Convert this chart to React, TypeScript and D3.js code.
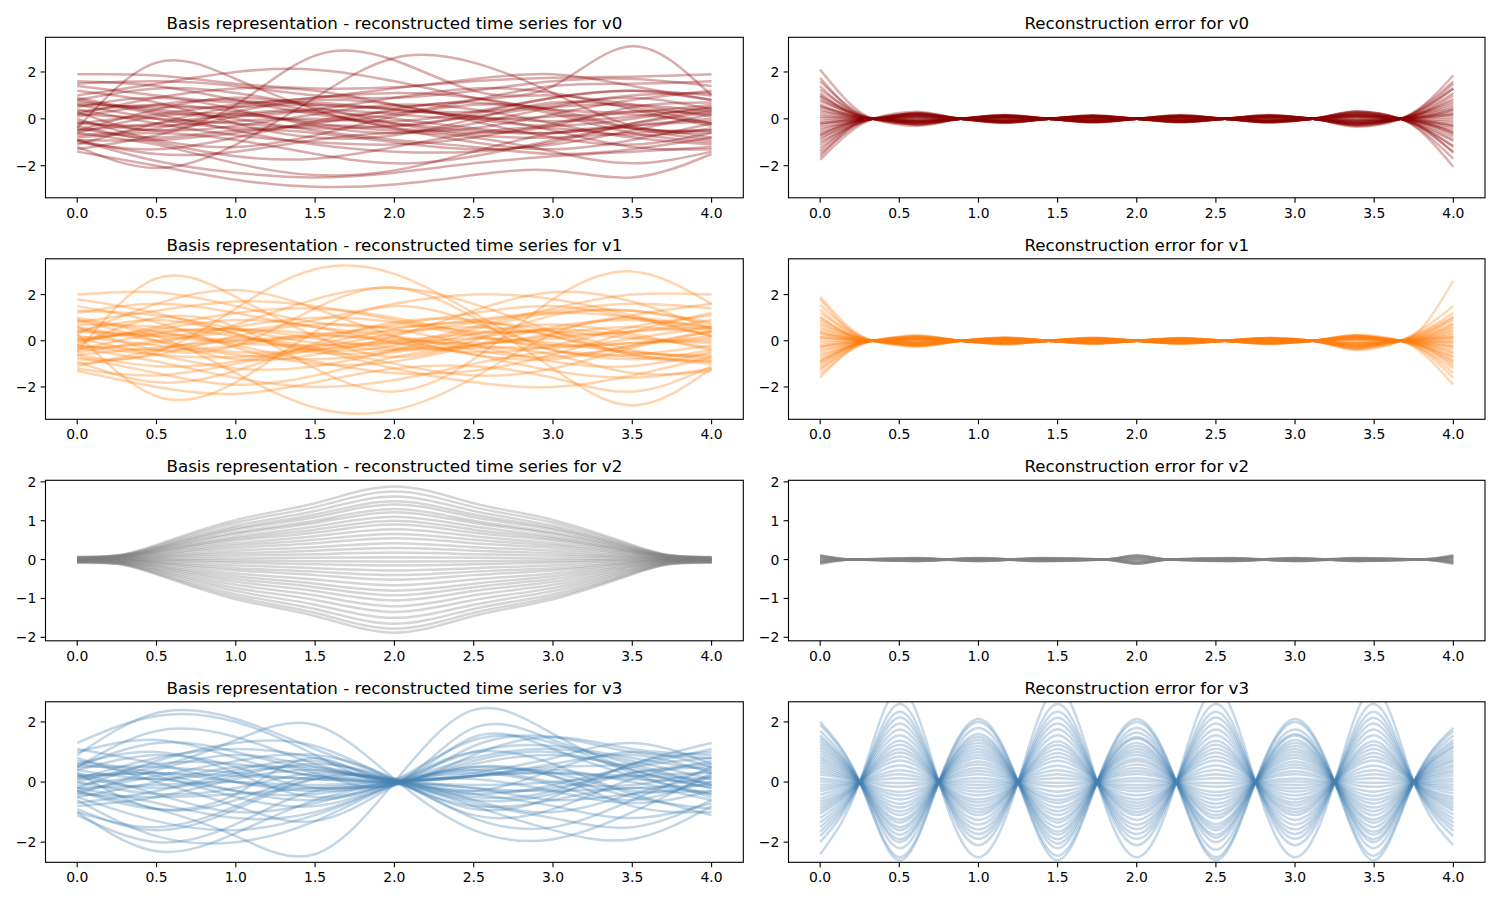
import React from 'react';
import * as d3 from 'd3';

const W = 1500;
const H = 900;

// sample positions for the reconstructed series
const basisX = [0, 0.5, 1, 1.5, 2, 2.5, 3, 3.5, 4];
const bellX = [0, 0.25, 0.5, 1, 1.5, 2, 2.5, 3, 3.5, 3.75, 4];

// error curves: zero crossings sit between the listed peaks
const errX = [0, 0.333, 0.611, 0.889, 1.167, 1.444, 1.722, 2.0, 2.278, 2.556, 2.833, 3.111, 3.389, 3.667, 4.0];
const waveX = [0, 0.25, 0.5, 0.75, 1, 1.25, 1.5, 1.75, 2, 2.25, 2.5, 2.75, 3, 3.25, 3.5, 3.75, 4];
const flatX = [0, 0.2, 0.6, 1.0, 1.4, 1.8, 2.0, 2.2, 2.6, 3.0, 3.4, 3.8, 4.0];

const v0Series = [
  [1.9, 1.85, 1.5, 1.3, 1.35, 1.6, 1.75, 1.8, 1.9],
  [-0.4, 2.4, 1.7, 0.4, -0.3, 0.2, 0.9, 1.2, 0.8],
  [-1.2, -2.1, -1.1, 0.9, 2.6, 2.4, 1.1, -0.3, -0.6],
  [0.3, -0.5, 0.6, 2.7, 2.5, 1.2, 1.4, 3.1, 1.0],
  [-1.4, -2.0, -2.6, -2.9, -2.8, -2.4, -2.2, -2.5, -1.5],
  [-0.9, -1.8, -2.3, -2.5, -2.3, -1.9, -1.6, -1.4, -1.2],
  [1.5, 1.6, 1.4, 1.0, 0.9, 1.2, 1.6, 1.7, 1.4],
  [0.8, 1.3, 1.1, 0.6, 0.5, 0.8, 1.0, 0.6, 0.1],
  [-0.5, 0.4, 0.9, 0.5, -0.2, -0.6, -0.3, 0.5, 0.7],
  [0.0, -0.9, -1.2, -0.7, 0.1, 0.6, 0.4, -0.4, -0.9],
  [-0.7, -0.4, 0.3, 0.8, 0.6, -0.1, -0.8, -1.1, -0.6],
  [0.5, 0.9, 0.4, -0.3, -0.6, -0.2, 0.5, 0.9, 0.4],
  [-1.0, -1.3, -0.8, -0.1, 0.3, 0.1, -0.5, -1.2, -1.3],
  [1.2, 0.7, -0.2, -0.8, -0.7, 0.0, 0.7, 0.5, -0.2],
  [-0.2, 0.2, 0.6, 0.9, 1.1, 0.9, 0.3, -0.4, -0.5],
  [0.4, -0.2, -0.7, -1.0, -1.1, -0.8, -0.2, 0.3, 0.2],
  [-0.8, -0.6, -0.9, -1.5, -1.9, -1.6, -0.9, -0.3, 0.0],
  [0.9, 0.3, 0.1, 0.4, 0.9, 1.3, 1.1, 0.4, -0.3],
  [-0.3, -1.0, -1.6, -1.7, -1.2, -0.6, -0.4, -0.8, -1.1],
  [1.0, 1.5, 2.0, 2.1, 1.6, 0.9, 0.4, 0.3, 0.6],
  [-0.6, 0.1, 0.2, -0.2, -0.5, -0.4, 0.2, 0.8, 1.2],
  [0.1, 0.6, 0.8, 0.3, -0.4, -1.0, -1.3, -0.9, -0.2],
  [-1.3, -0.7, 0.1, 0.3, 0.0, -0.4, -0.6, -0.2, 0.3],
  [0.6, 0.0, -0.4, -0.2, 0.4, 0.7, 0.2, -0.6, -1.0],
  [-0.1, -0.5, -0.3, 0.2, 0.6, 0.4, -0.2, -0.7, -0.4],
  [1.4, 1.0, 0.7, 0.9, 1.3, 1.7, 1.9, 1.4, 0.8],
  [-0.9, -1.5, -1.4, -0.9, -0.6, -0.8, -1.4, -1.9, -1.4],
  [0.2, 0.9, 1.3, 1.2, 0.6, 0.0, -0.3, 0.0, 0.5],
  [-0.4, -0.8, -0.5, -0.6, -1.0, -1.3, -1.1, -0.5, 0.2],
  [0.7, 0.4, 0.0, -0.5, -0.9, -1.2, -1.5, -1.3, -0.8],
  [-1.1, -0.2, 0.5, 0.7, 0.4, 0.3, 0.6, 1.0, 1.1],
  [0.3, 0.6, 0.3, -0.1, 0.2, 0.8, 1.4, 1.5, 1.6],
  [-0.2, -0.3, -0.1, 0.0, -0.2, -0.5, -0.6, -0.3, -0.1],
  [0.8, 0.2, -0.5, -1.1, -1.4, -1.4, -1.0, -0.2, 0.4],
  [-0.6, -1.1, -1.9, -2.4, -2.2, -1.4, -0.6, -0.4, -0.8],
  [1.6, 1.4, 0.8, 0.2, -0.1, 0.3, 0.9, 1.2, 1.0],
  [-0.5, -0.2, 0.2, 0.4, 0.2, 0.0, 0.1, 0.2, -0.2],
  [0.2, 0.0, -0.2, -0.4, -0.3, 0.1, 0.5, 0.6, 0.3],
  [-0.9, -0.9, -0.6, -0.3, -0.4, -0.7, -0.8, -0.6, -0.5],
  [0.6, 0.5, 0.5, 0.6, 0.4, 0.1, -0.1, 0.1, 0.5],
];

const v1Series = [
  [2.0, 2.1, 1.5, 0.8, 0.6, 0.9, 1.3, 1.6, 1.4],
  [-0.5, 2.7, 1.9, 0.2, -0.7, 0.0, 1.1, 1.3, 0.7],
  [0.3, -2.4, -1.8, 0.4, 1.5, 0.8, -0.2, 0.1, 0.6],
  [-0.8, -0.5, 1.4, 3.1, 2.9, 1.2, -0.4, -0.6, -0.2],
  [0.9, 0.2, -1.4, -2.9, -3.0, -1.6, 0.3, 1.0, 0.5],
  [-0.2, 1.0, 0.6, -1.2, -2.2, -0.8, 1.8, 3.0, 1.6],
  [0.6, -0.4, -0.2, 1.4, 2.3, 1.0, -1.2, -2.8, -1.2],
  [1.2, 1.6, 1.2, 0.6, 0.4, 0.8, 1.2, 1.0, 0.4],
  [-1.2, -1.5, -1.0, -0.4, -0.1, -0.6, -1.3, -1.6, -1.2],
  [0.4, 0.9, 0.3, -0.5, -0.4, 0.3, 0.7, 0.3, -0.4],
  [-0.6, -1.1, -0.9, -0.2, 0.5, 0.8, 0.4, -0.4, -0.8],
  [0.0, 0.5, 0.9, 0.6, -0.1, -0.5, -0.2, 0.6, 1.1],
  [1.5, 0.8, -0.3, -1.0, -0.9, -0.2, 0.6, 0.9, 0.6],
  [-0.3, -0.9, -1.6, -2.0, -1.7, -1.0, -0.5, -0.7, -1.0],
  [0.8, 1.3, 1.7, 1.5, 0.9, 0.4, 0.5, 1.1, 1.6],
  [-1.0, -0.6, 0.2, 0.7, 0.5, -0.2, -0.9, -1.1, -0.5],
  [0.2, -0.2, -0.6, -0.8, -0.5, 0.1, 0.5, 0.2, -0.3],
  [-0.4, 0.3, 0.5, 0.1, -0.3, -0.2, 0.3, 0.6, 0.3],
  [1.0, 0.4, 0.0, 0.2, 0.7, 1.2, 1.5, 1.0, 0.2],
  [-0.7, -1.4, -1.9, -1.5, -0.7, -0.3, -0.6, -1.4, -1.3],
  [0.5, 0.0, -0.5, -0.3, 0.3, 0.6, 0.2, -0.5, -0.6],
  [-0.1, 0.6, 1.2, 1.4, 1.0, 0.3, -0.4, -0.8, -0.4],
  [1.3, 1.1, 0.5, -0.1, -0.4, -0.2, 0.2, 0.4, 0.9],
  [-1.1, -0.4, 0.1, -0.3, -1.0, -1.5, -1.2, -0.3, 0.4],
  [0.1, -0.6, -1.2, -1.1, -0.4, 0.5, 1.2, 1.3, 0.8],
  [0.7, 0.6, 0.2, -0.4, -1.2, -1.8, -2.0, -1.5, -0.7],
  [-0.5, 0.0, 0.4, 0.9, 1.6, 2.0, 1.8, 1.1, 0.2],
  [0.3, 1.6, 2.2, 1.4, 0.2, -0.6, -0.8, -0.2, 0.4],
  [-0.9, -1.8, -1.3, -0.1, 0.8, 0.9, 0.2, -0.6, -0.9],
  [1.8, 1.2, 0.3, -0.4, -0.2, 0.6, 1.4, 2.0, 2.0],
  [-0.2, -0.4, -0.2, 0.3, 0.2, -0.4, -0.7, -0.2, 0.2],
  [0.6, 0.2, 0.6, 1.0, 0.8, 0.2, -0.2, -0.1, 0.0],
  [-1.3, -2.0, -2.3, -1.8, -1.2, -1.1, -1.6, -2.2, -1.1],
  [0.0, 0.3, -0.2, -0.9, -1.4, -1.3, -0.6, 0.4, 1.2],
  [0.9, 0.0, -0.8, -0.6, 0.2, 1.3, 2.1, 1.7, 0.5],
  [-0.3, -0.1, 0.7, 1.8, 2.3, 1.6, 0.4, -0.6, -0.9],
  [0.4, 0.2, -0.1, -0.2, 0.0, 0.3, 0.4, 0.1, -0.1],
  [-0.6, -0.3, 0.0, 0.2, 0.1, -0.2, -0.3, -0.1, 0.1],
  [0.1, 0.4, 0.5, 0.3, 0.0, -0.1, 0.1, 0.4, 0.6],
  [-0.2, -0.6, -0.7, -0.4, -0.1, 0.1, -0.1, -0.5, -0.7],
];

const v2Series = [
  [0.06, 0.11, 0.38, 1.02, 1.45, 1.88, 1.45, 1.02, 0.38, 0.11, 0.05],
  [0.04, 0.10, 0.35, 0.95, 1.35, 1.75, 1.35, 0.95, 0.35, 0.10, 0.06],
  [0.07, 0.10, 0.32, 0.87, 1.25, 1.62, 1.25, 0.87, 0.32, 0.10, 0.03],
  [0.02, 0.09, 0.30, 0.81, 1.16, 1.50, 1.16, 0.81, 0.30, 0.09, 0.07],
  [0.05, 0.09, 0.28, 0.77, 1.09, 1.42, 1.09, 0.77, 0.28, 0.09, 0.02],
  [0.03, 0.08, 0.26, 0.70, 1.00, 1.30, 1.00, 0.70, 0.26, 0.08, 0.05],
  [0.06, 0.07, 0.24, 0.66, 0.94, 1.22, 0.94, 0.66, 0.24, 0.07, 0.01],
  [0.01, 0.07, 0.22, 0.59, 0.85, 1.10, 0.85, 0.59, 0.22, 0.07, 0.04],
  [0.04, 0.06, 0.20, 0.54, 0.77, 1.00, 0.77, 0.54, 0.20, 0.06, 0.06],
  [0.00, 0.05, 0.18, 0.49, 0.69, 0.90, 0.69, 0.49, 0.18, 0.05, 0.03],
  [0.05, 0.05, 0.16, 0.42, 0.60, 0.78, 0.60, 0.42, 0.16, 0.05, -0.01],
  [-0.02, 0.04, 0.13, 0.36, 0.51, 0.66, 0.51, 0.36, 0.13, 0.04, 0.04],
  [0.03, 0.03, 0.11, 0.30, 0.42, 0.55, 0.42, 0.30, 0.11, 0.03, 0.00],
  [-0.01, 0.03, 0.08, 0.23, 0.32, 0.42, 0.32, 0.23, 0.08, 0.03, 0.02],
  [0.02, 0.02, 0.06, 0.16, 0.23, 0.30, 0.23, 0.16, 0.06, 0.02, -0.02],
  [-0.03, 0.01, 0.04, 0.10, 0.14, 0.18, 0.14, 0.10, 0.04, 0.01, 0.01],
  [0.01, 0.00, 0.01, 0.03, 0.05, 0.06, 0.05, 0.03, 0.01, 0.00, -0.03],
  [-0.04, 0.00, -0.01, -0.03, -0.04, -0.05, -0.04, -0.03, -0.01, 0.00, 0.02],
  [0.02, -0.01, -0.03, -0.08, -0.12, -0.15, -0.12, -0.08, -0.03, -0.01, -0.04],
  [-0.05, -0.02, -0.06, -0.15, -0.22, -0.28, -0.22, -0.15, -0.06, -0.02, 0.00],
  [-0.01, -0.02, -0.08, -0.22, -0.31, -0.40, -0.31, -0.22, -0.08, -0.02, -0.05],
  [-0.06, -0.03, -0.10, -0.28, -0.40, -0.52, -0.40, -0.28, -0.10, -0.03, -0.02],
  [-0.02, -0.04, -0.13, -0.36, -0.51, -0.66, -0.51, -0.36, -0.13, -0.04, -0.06],
  [-0.07, -0.05, -0.16, -0.43, -0.62, -0.80, -0.62, -0.43, -0.16, -0.05, -0.03],
  [-0.03, -0.06, -0.18, -0.50, -0.71, -0.92, -0.71, -0.50, -0.18, -0.06, -0.07],
  [-0.06, -0.06, -0.21, -0.57, -0.81, -1.05, -0.81, -0.57, -0.21, -0.06, -0.02],
  [-0.02, -0.07, -0.24, -0.65, -0.92, -1.20, -0.92, -0.65, -0.24, -0.07, -0.06],
  [-0.07, -0.08, -0.27, -0.73, -1.04, -1.35, -1.04, -0.73, -0.27, -0.08, -0.04],
  [-0.04, -0.09, -0.30, -0.81, -1.16, -1.50, -1.16, -0.81, -0.30, -0.09, -0.07],
  [-0.06, -0.10, -0.33, -0.89, -1.27, -1.65, -1.27, -0.89, -0.33, -0.10, -0.05],
  [-0.08, -0.11, -0.36, -0.96, -1.37, -1.78, -1.37, -0.96, -0.36, -0.11, -0.06],
  [-0.05, -0.11, -0.38, -1.02, -1.45, -1.88, -1.45, -1.02, -0.38, -0.11, -0.08],
];

const v3Series = [
  [1.3, 2.2, 2.0, 0.9, 0.05, 1.2, 1.5, 1.0, 0.8],
  [0.9, 2.3, 2.1, 1.1, 0.1, -0.6, -0.4, 0.3, 0.6],
  [-1.0, -2.3, -1.7, -0.6, 0.0, 0.5, 0.2, -0.5, -0.9],
  [-0.3, -0.9, -1.8, -2.4, 0.0, 2.4, 1.6, 0.4, -0.2],
  [0.2, 0.5, 1.4, 1.9, 0.1, -1.6, -1.9, -1.0, 0.3],
  [-0.3, -0.9, -0.4, 0.8, 0.1, 1.5, 1.1, 0.2, -0.4],
  [0.5, 1.3, 1.0, 0.4, 0.0, -1.2, -1.5, -0.6, 0.5],
  [-1.1, -2.0, -1.4, -0.3, -0.1, 0.9, 1.5, 1.1, 0.9],
  [0.1, 0.8, 1.1, 0.8, 0.05, -0.5, -0.3, 0.6, 1.3],
  [0.6, 0.2, -0.5, -0.8, -0.05, 0.8, 1.1, 0.7, 0.1],
  [-0.4, 0.4, 0.9, 0.5, 0.0, -0.4, -0.8, -1.2, -0.7],
  [0.3, -0.4, -1.0, -0.7, -0.05, 0.4, 0.3, -0.4, -1.1],
  [0.0, 0.6, 0.6, 0.2, 0.0, 0.3, 0.8, 1.3, 0.6],
  [-0.7, -0.3, 0.3, 0.5, 0.05, -0.3, -0.2, 0.3, 0.5],
  [1.0, 1.4, 0.8, 0.2, -0.05, -0.7, -1.2, -1.5, -0.6],
  [-0.2, -0.7, -1.2, -1.0, -0.1, 0.6, 0.9, 0.5, -0.1],
  [0.4, 0.9, 0.5, -0.2, 0.0, 0.2, 0.4, 0.0, -0.4],
  [-0.5, -1.3, -1.6, -1.1, -0.05, 1.0, 1.2, 0.8, 0.4],
  [0.7, 0.3, -0.3, -0.6, 0.05, 1.4, 1.3, 0.3, -0.5],
  [-0.9, -1.6, -0.9, 0.1, 0.1, -0.6, -1.0, -0.4, 0.2],
  [0.2, -0.2, 0.2, 0.6, 0.05, -0.9, -0.5, 0.6, 1.0],
  [-0.1, 0.1, -0.3, -0.4, 0.0, 0.1, -0.3, -0.7, -0.3],
  [1.1, 0.6, 0.0, -0.3, -0.05, 0.5, 0.2, -0.8, -1.0],
  [-0.8, -0.5, 0.1, 0.4, 0.0, -0.8, -1.6, -1.9, -0.8],
  [0.5, 1.7, 1.5, 0.6, 0.05, 0.2, 0.6, 0.9, 0.3],
  [-0.3, 0.2, 0.7, 0.9, 0.1, -1.1, -0.9, 0.1, 0.7],
  [0.8, 0.0, -0.8, -1.3, -0.1, 1.0, 0.6, -0.3, 0.0],
  [-0.6, -1.8, -2.0, -1.3, -0.1, 0.4, 0.0, -0.1, 0.4],
  [0.1, 0.3, 0.0, -0.2, 0.0, 0.7, 1.0, 0.4, -0.2],
  [0.3, -0.9, -0.6, 0.2, 0.05, -0.3, 0.4, 1.0, 0.5],
  [-0.2, 0.7, 1.3, 1.2, 0.05, -0.8, -0.6, -0.2, -0.6],
  [0.6, 1.0, 0.3, -0.5, -0.05, 0.3, -0.1, -0.6, 0.2],
  [-1.0, -1.5, -0.8, 0.1, 0.05, 0.2, 0.5, 0.6, 1.1],
  [0.0, -0.4, -0.2, 0.3, 0.0, -0.4, -0.1, 0.5, 0.8],
  [0.4, 0.1, 0.4, 0.7, 0.05, -0.2, -0.6, -0.4, -0.3],
  [-0.5, 0.0, 0.5, 0.3, -0.05, 1.8, 1.4, 0.6, -0.1],
  [0.2, 0.3, 0.2, 0.1, 0.0, 0.2, 0.3, 0.1, 0.0],
  [-0.2, -0.1, 0.0, -0.1, 0.0, -0.2, -0.3, -0.2, -0.1],
  [0.5, 0.5, 0.3, 0.1, 0.0, -0.1, 0.0, 0.2, 0.3],
  [-0.4, -0.5, -0.4, -0.2, 0.0, 0.2, 0.3, 0.2, 0.1],
];

// error peaks between crossings (v0, v1: 8 peaks; v3: 9 peaks)
const v0ErrPeaks = [
  [2.1, -0.3, 0.15, -0.12, 0.1, -0.14, 0.3, -2.05],
  [1.75, 0.25, -0.18, 0.1, -0.15, 0.12, -0.28, 1.85],
  [1.6, -0.22, 0.12, -0.16, 0.14, -0.1, 0.32, -1.7],
  [1.4, 0.18, -0.1, 0.14, -0.12, 0.16, -0.22, 1.5],
  [1.25, -0.2, 0.16, -0.08, 0.1, -0.15, 0.25, -1.4],
  [1.1, 0.26, -0.14, 0.12, -0.08, 0.1, -0.3, 1.3],
  [0.95, -0.15, 0.1, -0.14, 0.16, -0.12, 0.2, -1.2],
  [0.85, 0.12, -0.16, 0.1, -0.1, 0.14, -0.18, 1.1],
  [0.75, -0.24, 0.08, -0.12, 0.12, -0.08, 0.28, -0.95],
  [0.62, 0.1, -0.12, 0.15, -0.14, 0.1, -0.14, 0.85],
  [0.5, -0.14, 0.14, -0.06, 0.08, -0.16, 0.16, -0.75],
  [0.4, 0.2, -0.06, 0.1, -0.12, 0.08, -0.24, 0.65],
  [0.3, -0.08, 0.1, -0.12, 0.06, -0.1, 0.12, -0.55],
  [0.2, 0.16, -0.12, 0.06, -0.08, 0.12, -0.2, 0.45],
  [0.1, -0.1, 0.06, -0.1, 0.12, -0.06, 0.1, -0.35],
  [0.02, 0.06, -0.08, 0.12, -0.06, 0.08, -0.08, 0.25],
  [-0.08, -0.12, 0.1, -0.04, 0.1, -0.12, 0.16, -0.15],
  [-0.18, 0.14, -0.06, 0.08, -0.12, 0.06, -0.12, 0.05],
  [-0.28, -0.06, 0.12, -0.1, 0.04, -0.1, 0.08, -0.05],
  [-0.38, 0.22, -0.1, 0.06, -0.06, 0.14, -0.2, 0.15],
  [-0.48, -0.16, 0.08, -0.14, 0.1, -0.04, 0.18, -0.25],
  [-0.58, 0.08, -0.14, 0.1, -0.1, 0.1, -0.06, 0.35],
  [-0.68, -0.2, 0.06, -0.06, 0.14, -0.12, 0.24, -0.45],
  [-0.8, 0.18, -0.1, 0.14, -0.04, 0.06, -0.16, 0.55],
  [-0.9, -0.1, 0.14, -0.1, 0.08, -0.14, 0.1, -0.65],
  [-1.0, 0.24, -0.08, 0.04, -0.12, 0.12, -0.26, 0.75],
  [-1.12, -0.18, 0.12, -0.12, 0.06, -0.08, 0.2, -0.88],
  [-1.25, 0.14, -0.16, 0.08, -0.1, 0.16, -0.12, 1.0],
  [-1.38, -0.26, 0.1, -0.14, 0.14, -0.1, 0.3, -1.15],
  [-1.5, 0.2, -0.12, 0.12, -0.08, 0.12, -0.22, 1.3],
  [-1.62, -0.12, 0.16, -0.06, 0.12, -0.14, 0.14, -1.45],
  [-1.75, 0.3, -0.14, 0.1, -0.14, 0.08, -0.34, 1.6],
  [0.55, 0.04, -0.02, 0.03, -0.02, 0.03, -0.05, -0.3],
  [-0.2, -0.04, 0.03, -0.02, 0.02, -0.03, 0.04, 0.2],
  [1.0, -0.06, 0.04, -0.03, 0.03, -0.04, 0.06, 0.4],
  [-0.7, 0.05, -0.03, 0.04, -0.03, 0.02, -0.05, -0.6],
];

const v1ErrPeaks = [
  [1.9, -0.2, 0.12, -0.1, 0.12, -0.1, 0.2, 2.6],
  [1.8, 0.22, -0.15, 0.1, -0.1, 0.12, -0.4, 1.5],
  [1.55, -0.18, 0.1, -0.12, 0.08, -0.12, 0.25, -1.9],
  [1.35, 0.16, -0.08, 0.14, -0.12, 0.1, -0.3, 1.2],
  [1.2, -0.24, 0.14, -0.06, 0.1, -0.14, 0.18, -1.6],
  [1.05, 0.12, -0.12, 0.1, -0.06, 0.08, -0.36, 1.05],
  [0.9, -0.1, 0.08, -0.12, 0.12, -0.1, 0.14, -1.4],
  [0.8, 0.2, -0.14, 0.08, -0.1, 0.12, -0.24, 0.9],
  [0.7, -0.16, 0.1, -0.1, 0.06, -0.06, 0.22, -1.2],
  [0.6, 0.08, -0.1, 0.12, -0.12, 0.1, -0.18, 0.75],
  [0.5, -0.12, 0.06, -0.06, 0.1, -0.12, 0.12, -1.0],
  [0.4, 0.14, -0.08, 0.1, -0.08, 0.06, -0.28, 0.6],
  [0.3, -0.06, 0.12, -0.08, 0.06, -0.08, 0.1, -0.85],
  [0.2, 0.1, -0.06, 0.06, -0.1, 0.1, -0.14, 0.45],
  [0.1, -0.2, 0.08, -0.1, 0.08, -0.06, 0.16, -0.7],
  [0.0, 0.06, -0.1, 0.08, -0.04, 0.08, -0.1, 0.3],
  [-0.1, -0.08, 0.06, -0.04, 0.08, -0.1, 0.08, -0.55],
  [-0.2, 0.12, -0.04, 0.1, -0.06, 0.04, -0.2, 0.15],
  [-0.3, -0.14, 0.1, -0.06, 0.04, -0.08, 0.06, -0.4],
  [-0.4, 0.18, -0.08, 0.04, -0.08, 0.12, -0.32, 0.0],
  [-0.5, -0.1, 0.04, -0.1, 0.1, -0.04, 0.14, -0.25],
  [-0.6, 0.24, -0.12, 0.08, -0.06, 0.06, -0.22, -0.1],
  [-0.7, -0.06, 0.08, -0.06, 0.06, -0.1, 0.1, 0.1],
  [-0.8, 0.14, -0.06, 0.12, -0.1, 0.08, -0.26, -0.3],
  [-0.9, -0.18, 0.12, -0.04, 0.08, -0.06, 0.2, 0.25],
  [-1.0, 0.1, -0.1, 0.06, -0.04, 0.1, -0.12, -0.5],
  [-1.1, -0.22, 0.06, -0.08, 0.1, -0.12, 0.24, 0.4],
  [-1.2, 0.2, -0.14, 0.1, -0.08, 0.06, -0.34, -0.7],
  [-1.3, -0.12, 0.1, -0.12, 0.06, -0.08, 0.12, 0.55],
  [-1.45, 0.16, -0.08, 0.06, -0.12, 0.1, -0.2, -0.9],
  [-1.6, -0.25, 0.14, -0.1, 0.08, -0.1, 0.22, 0.7],
  [0.35, 0.04, -0.03, 0.02, -0.03, 0.02, -0.06, -0.2],
  [-0.25, -0.05, 0.02, -0.03, 0.02, -0.03, 0.05, 0.15],
  [1.0, 0.05, -0.04, 0.03, -0.02, 0.04, -0.08, -1.1],
  [-0.9, 0.06, -0.02, 0.04, -0.03, 0.02, -0.1, 1.0],
  [0.15, -0.03, 0.02, -0.02, 0.03, -0.02, 0.04, -0.05],
];

const v2ErrSeries = [
  [0.11, 0.0, 0.04, -0.03, 0.03, 0.0, -0.1, 0.0, 0.03, -0.03, 0.03, 0.0, 0.11],
  [-0.11, 0.0, -0.03, 0.04, -0.03, 0.0, 0.1, 0.0, -0.04, 0.03, -0.03, 0.0, -0.11],
  [0.08, 0.0, 0.03, -0.04, 0.04, 0.0, -0.08, 0.0, 0.04, -0.04, 0.02, 0.0, 0.07],
  [-0.07, 0.0, -0.04, 0.03, -0.04, 0.0, 0.07, 0.0, -0.03, 0.04, -0.04, 0.0, -0.08],
  [0.05, 0.0, 0.02, -0.02, 0.03, 0.0, -0.05, 0.0, 0.02, -0.02, 0.04, 0.0, 0.05],
  [-0.04, 0.0, -0.02, 0.03, -0.02, 0.0, 0.05, 0.0, -0.03, 0.02, -0.02, 0.0, -0.05],
  [0.09, 0.0, 0.03, -0.03, 0.02, 0.0, 0.11, 0.0, 0.03, -0.03, 0.03, 0.0, -0.06],
  [-0.08, 0.0, -0.03, 0.02, -0.03, 0.0, -0.11, 0.0, -0.02, 0.03, -0.03, 0.0, 0.09],
  [0.02, 0.0, 0.01, -0.01, 0.01, 0.0, 0.02, 0.0, 0.01, -0.01, 0.01, 0.0, -0.02],
  [-0.02, 0.0, -0.01, 0.01, -0.01, 0.0, -0.02, 0.0, -0.01, 0.01, -0.01, 0.0, 0.02],
];

const v3ErrPeaks = [
  [2.0, -2.6, 2.1, -2.6, 2.1, -2.6, 2.1, -2.6, 1.8],
  [1.9, -2.5, 2.0, -2.45, 2.0, -2.5, 2.0, -2.45, 1.7],
  [1.7, -2.2, 1.8, -2.2, 1.8, -2.25, 1.75, -2.2, 1.55],
  [1.55, -2.0, 1.6, -2.05, 1.65, -2.0, 1.6, -2.0, 1.4],
  [1.45, -1.9, 1.5, -1.9, 1.5, -1.85, 1.55, -1.9, 1.3],
  [1.35, -1.75, 1.4, -1.75, 1.45, -1.75, 1.4, -1.75, 1.2],
  [1.25, -1.6, 1.3, -1.65, 1.3, -1.6, 1.3, -1.65, 1.15],
  [1.15, -1.5, 1.2, -1.5, 1.2, -1.5, 1.2, -1.5, 1.05],
  [1.05, -1.35, 1.1, -1.35, 1.1, -1.4, 1.1, -1.35, 0.95],
  [0.95, -1.25, 1.0, -1.25, 1.0, -1.2, 1.0, -1.25, 0.85],
  [0.85, -1.1, 0.9, -1.1, 0.9, -1.1, 0.9, -1.1, 0.75],
  [0.75, -0.98, 0.8, -0.97, 0.78, -0.98, 0.8, -0.97, 0.68],
  [0.65, -0.85, 0.68, -0.84, 0.7, -0.85, 0.68, -0.85, 0.58],
  [0.55, -0.72, 0.58, -0.7, 0.58, -0.72, 0.58, -0.71, 0.5],
  [0.45, -0.58, 0.47, -0.6, 0.47, -0.58, 0.48, -0.59, 0.4],
  [0.35, -0.45, 0.37, -0.46, 0.37, -0.45, 0.36, -0.46, 0.32],
  [0.25, -0.33, 0.26, -0.32, 0.27, -0.33, 0.26, -0.32, 0.22],
  [0.12, -0.16, 0.13, -0.15, 0.13, -0.16, 0.12, -0.16, 0.11],
  [0.02, -0.03, 0.02, -0.02, 0.03, -0.03, 0.02, -0.02, 0.02],
  [-0.1, 0.13, -0.1, 0.13, -0.11, 0.13, -0.1, 0.13, -0.09],
  [-0.2, 0.26, -0.21, 0.26, -0.21, 0.26, -0.21, 0.26, -0.18],
  [-0.3, 0.39, -0.32, 0.39, -0.31, 0.4, -0.32, 0.39, -0.27],
  [-0.42, 0.55, -0.44, 0.54, -0.44, 0.55, -0.44, 0.54, -0.38],
  [-0.55, 0.72, -0.58, 0.71, -0.58, 0.72, -0.57, 0.72, -0.5],
  [-0.65, 0.85, -0.68, 0.84, -0.69, 0.85, -0.68, 0.84, -0.58],
  [-0.75, 0.98, -0.79, 0.97, -0.79, 0.98, -0.78, 0.97, -0.68],
  [-0.85, 1.1, -0.9, 1.1, -0.89, 1.11, -0.9, 1.1, -0.77],
  [-0.95, 1.24, -1.0, 1.23, -1.0, 1.24, -1.0, 1.23, -0.86],
  [-1.05, 1.37, -1.1, 1.36, -1.1, 1.37, -1.1, 1.36, -0.95],
  [-1.2, 1.56, -1.26, 1.56, -1.26, 1.56, -1.26, 1.56, -1.08],
  [-1.35, 1.75, -1.42, 1.76, -1.42, 1.75, -1.42, 1.75, -1.22],
  [-1.5, 1.95, -1.58, 1.95, -1.57, 1.95, -1.58, 1.95, -1.35],
  [-1.65, 2.15, -1.73, 2.14, -1.73, 2.15, -1.73, 2.14, -1.49],
  [-1.8, 2.34, -1.89, 2.34, -1.89, 2.34, -1.89, 2.34, -1.62],
  [-2.0, 2.6, -2.1, 2.6, -2.1, 2.6, -2.1, 2.6, -1.8],
  [-2.4, 3.1, -2.5, 3.1, -2.5, 3.1, -2.5, 3.1, -2.1],
];

const varNames = ['v0', 'v1', 'v2', 'v3'];
const colors = ['#8b0000', '#ff7f0e', '#808080', '#4682b4'];
const yLimits: [number, number][] = [[-3.37, 3.48], [-3.4, 3.55], [-2.09, 2.04], [-2.67, 2.67]];
const yTickSets = [[-2, 0, 2], [-2, 0, 2], [-2, -1, 0, 1, 2], [-2, 0, 2]];
const xTicks = [0, 0.5, 1, 1.5, 2, 2.5, 3, 3.5, 4];

type Pt = [number, number];

const zip = (xs: number[], ys: number[]): Pt[] => ys.map((y, i) => [xs[i], y]);

// peaks sit on even grid slots, the odd slots are zero crossings
const withCrossings = (xs: number[], peaks: number[]): Pt[] =>
  peaks.flatMap((v, i): Pt[] => (i === 0 ? [[xs[0], v]] : [[xs[2 * i - 1], 0], [xs[2 * i], v]]));

const leftLines: Pt[][][] = [
  v0Series.map(s => zip(basisX, s)),
  v1Series.map(s => zip(basisX, s)),
  v2Series.map(s => zip(bellX, s)),
  v3Series.map(s => zip(basisX, s)),
];

const rightLines: Pt[][][] = [
  v0ErrPeaks.map(p => withCrossings(errX, p)),
  v1ErrPeaks.map(p => withCrossings(errX, p)),
  v2ErrSeries.map(s => zip(flatX, s)),
  v3ErrPeaks.map(p => withCrossings(waveX, p)),
];

const rightCurves: d3.CurveFactory[] = [d3.curveMonotoneX, d3.curveMonotoneX, d3.curveMonotoneX, d3.curveNatural];

const fmtY = (v: number) => String(v).replace('-', '\u2212');
const fmtX = d3.format('.1f');

interface PanelProps {
  id: string;
  left: number;
  top: number;
  w: number;
  h: number;
  title: string;
  lines: Pt[][];
  color: string;
  yDomain: [number, number];
  yTicks: number[];
  curve: d3.CurveFactory;
  opacity: number;
}

const Panel = ({ id, left, top, w, h, title, lines, color, yDomain, yTicks, curve, opacity }: PanelProps) => {
  const x = d3.scaleLinear().domain([-0.2, 4.2]).range([0, w]);
  const y = d3.scaleLinear().domain(yDomain).range([h, 0]);
  const line = d3.line<Pt>().x(d => x(d[0])).y(d => y(d[1])).curve(curve);
  const font = { fontFamily: 'DejaVu Sans', fill: '#000' };

  return (
    <g transform={`translate(${left},${top})`}>
      <defs>
        <clipPath id={id}>
          <rect x={0} y={0} width={w} height={h} />
        </clipPath>
      </defs>
      <g clipPath={`url(#${id})`}>
        {lines.map((pts, i) => (
          <path key={i} d={line(pts) ?? ''} fill="none" stroke={color}
            strokeOpacity={opacity} strokeWidth={2.5} />
        ))}
      </g>
      <rect x={0} y={0} width={w} height={h} fill="none" stroke="#000" strokeWidth={1.1} />
      {xTicks.map(t => (
        <g key={t} transform={`translate(${x(t)},${h})`}>
          <line y2={4.9} stroke="#000" strokeWidth={1.1} />
          <text y={20.2} textAnchor="middle" fontSize={13.9} style={font}>{fmtX(t)}</text>
        </g>
      ))}
      {yTicks.map(t => (
        <g key={t} transform={`translate(0,${y(t)})`}>
          <line x2={-4.9} stroke="#000" strokeWidth={1.1} />
          <text x={-9.2} dy="0.36em" textAnchor="end" fontSize={13.9} style={font}>{fmtY(t)}</text>
        </g>
      ))}
      <text x={w / 2} y={-8.3} textAnchor="middle" fontSize={16.7} style={font}>{title}</text>
    </g>
  );
};

export default function App() {
  const colLeft = [45.5, 788.5];
  const colW = [697.8, 696.5];
  const rowTop = [37.3, 258.8, 480.3, 701.8];
  const rowH = 160.5;

  return (
    <svg width={W} height={H} style={{ display: 'block', position: 'absolute', left: 0, top: 0, background: '#fff' }}>
      <rect width={W} height={H} fill="#fff" />
      {varNames.map((name, r) => (
        <g key={name}>
          <Panel id={`clip-l-${r}`} left={colLeft[0]} top={rowTop[r]} w={colW[0]} h={rowH}
            title={`Basis representation - reconstructed time series for ${name}`}
            lines={leftLines[r]} color={colors[r]} yDomain={yLimits[r]} yTicks={yTickSets[r]}
            curve={d3.curveNatural} opacity={0.33} />
          <Panel id={`clip-r-${r}`} left={colLeft[1]} top={rowTop[r]} w={colW[1]} h={rowH}
            title={`Reconstruction error for ${name}`}
            lines={rightLines[r]} color={colors[r]} yDomain={yLimits[r]} yTicks={yTickSets[r]}
            curve={rightCurves[r]} opacity={r === 2 ? 0.6 : 0.3} />
        </g>
      ))}
    </svg>
  );
}
